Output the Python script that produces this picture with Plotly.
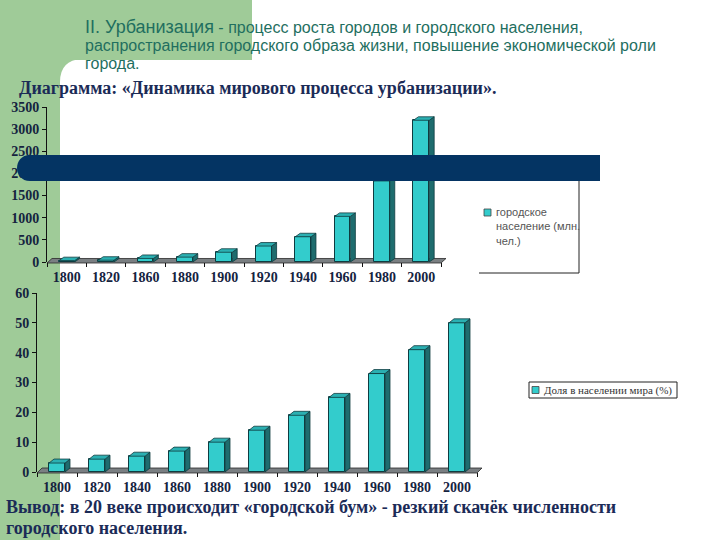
import plotly.graph_objects as go

# ---------------- data ----------------
top_years = ["1800", "1820", "1860", "1880", "1900", "1920", "1940", "1960", "1980", "2000"]
top_values = [30, 40, 80, 110, 220, 360, 570, 1030, 1830, 3200]
top_name = "городское население (млн. чел.)"

bot_years = ["1800", "1820", "1840", "1860", "1880", "1900", "1920", "1940", "1960", "1980", "2000"]
bot_values = [3, 4.3, 5.3, 7, 10, 14, 19, 25, 33, 41, 50]
bot_name = "Доля в населении мира (%)"

title_head = "II. Урбанизация"
title_lines = [
    " - процесс роста городов и городского населения,",
    "распространения городского образа жизни, повышение экономической роли",
    "города.",
]
diagram_title = "Диаграмма: «Динамика мирового процесса урбанизации»."
conclusion = [
    "Вывод: в 20 веке происходит «городской бум» - резкий скачёк численности",
    "городского населения.",
]

# ---------------- style ----------------
W, H = 720, 540
GREEN = "#9fcb98"
NAVY_BAR = "#043463"
FRONT = "#33cccc"
SIDE = "#1e6c6e"
TOPF = "#2bb0b2"
EDGE = "#0f3c40"
TEXT_GREEN = "#1f6f5f"
TEXT_NAVY = "#1b2b57"
SERIF = "Liberation Serif"
SANS = "Liberation Sans"


def X(px):
    return px / W


def Y(py):
    return 1 - py / H


def path(points):
    return "M " + " L ".join(f"{X(a):.5f},{Y(b):.5f}" for a, b in points) + " Z"


# chart geometry (pixels): front plane and back wall
T_FRONT = dict(x0=47, x1=441, y0=262, y1=107)   # y0 = value 0, y1 = max
T_BACK = dict(x0=52, x1=446, y0=258.5, y1=101)
B_FRONT = dict(x0=37, x1=477, y0=472, y1=293)
B_BACK = dict(x0=42, x1=482, y0=468, y1=290)
T_MAX, B_MAX = 3500, 60
BAR_W = 0.4

fig = go.Figure()

fig.add_trace(go.Bar(
    x=list(range(len(top_years))), y=top_values, name=top_name,
    xaxis="x2", yaxis="y2", width=BAR_W,
    marker=dict(color=FRONT, line=dict(color=EDGE, width=1)),
    showlegend=False,
))
fig.add_trace(go.Bar(
    x=list(range(len(bot_years))), y=bot_values, name=bot_name,
    xaxis="x4", yaxis="y4", width=BAR_W,
    marker=dict(color=FRONT, line=dict(color=EDGE, width=1)),
    showlegend=False,
))

shapes = []
# background green areas
shapes.append(dict(type="rect", xref="paper", yref="paper", x0=X(0), x1=X(252), y0=Y(60), y1=Y(0),
                   fillcolor=GREEN, line=dict(width=0), layer="below"))
shapes.append(dict(type="rect", xref="paper", yref="paper", x0=X(0), x1=X(60), y0=Y(540), y1=Y(0),
                   fillcolor=GREEN, line=dict(width=0), layer="below"))
shapes.append(dict(type="path", xref="paper", yref="paper",
                   path=f"M {X(60)},{Y(59)} L {X(82)},{Y(59)} Q {X(60)},{Y(60)} {X(60)},{Y(82)} Z",
                   fillcolor=GREEN, line=dict(width=0), layer="below"))


def floor(front, back):
    return dict(type="path", xref="paper", yref="paper",
                path=path([(front["x0"], front["y0"] + 1), (front["x1"], front["y0"] + 1),
                           (back["x1"], back["y0"]), (back["x0"], back["y0"])]),
                fillcolor="#7a7f82", line=dict(color="#2a2a2a", width=0.8), layer="below")


shapes.append(floor(T_FRONT, T_BACK))
shapes.append(floor(B_FRONT, B_BACK))


def faces(values, xa, ya, front, back, vmax, n):
    out = []
    ppu_x = (front["x1"] - front["x0"]) / n
    ppu_y = (front["y0"] - front["y1"]) / vmax
    dx = (back["x1"] - front["x1"]) / ppu_x
    dy = (front["y0"] - back["y0"]) / ppu_y
    for i, v in enumerate(values):
        l, r = i - BAR_W / 2, i + BAR_W / 2
        side = f"M {r},0 L {r+dx},{dy} L {r+dx},{v+dy} L {r},{v} Z"
        top = f"M {l},{v} L {r},{v} L {r+dx},{v+dy} L {l+dx},{v+dy} Z"
        out.append(dict(type="path", xref=xa, yref=ya, path=side, fillcolor=SIDE,
                        line=dict(color=EDGE, width=0.8), layer="above"))
        out.append(dict(type="path", xref=xa, yref=ya, path=top, fillcolor=TOPF,
                        line=dict(color=EDGE, width=0.8), layer="above"))
    return out


shapes += faces(top_values, "x2", "y2", T_FRONT, T_BACK, T_MAX, len(top_years))
shapes += faces(bot_values, "x4", "y4", B_FRONT, B_BACK, B_MAX, len(bot_years))

# top legend box (right and bottom edges visible) + marker
shapes.append(dict(type="path", xref="paper", yref="paper",
                   path=f"M {X(479)},{Y(273)} L {X(579)},{Y(273)} L {X(579)},{Y(170)}",
                   line=dict(color="#222", width=1), layer="above"))
shapes.append(dict(type="rect", xref="paper", yref="paper", x0=X(484), x1=X(491), y0=Y(216), y1=Y(209),
                   fillcolor=FRONT, line=dict(color="#444", width=0.8), layer="above"))
# bottom legend box + marker
shapes.append(dict(type="rect", xref="paper", yref="paper", x0=X(529), x1=X(677), y0=Y(398), y1=Y(382),
                   fillcolor="white", line=dict(color="#222", width=1), layer="above"))
shapes.append(dict(type="rect", xref="paper", yref="paper", x0=X(532), x1=X(539), y0=Y(393.5), y1=Y(386.5),
                   fillcolor=FRONT, line=dict(color="#444", width=0.8), layer="above"))

# dark rounded banner
shapes.append(dict(type="path", xref="paper", yref="paper",
                   path=(f"M {X(30)},{Y(155)} L {X(600)},{Y(155)} L {X(600)},{Y(181)} L {X(30)},{Y(181)} "
                         f"C {X(12.7)},{Y(181)} {X(12.7)},{Y(155)} {X(30)},{Y(155)} Z"),
                   fillcolor=NAVY_BAR, line=dict(width=0), layer="above"))

annotations = []
line_texts = [f"<span style='font-size:18px'>{title_head}</span>{title_lines[0]}"] + title_lines[1:]
for txt, yy in zip(line_texts, [27, 45, 63]):
    annotations.append(dict(text=txt, x=X(83), y=Y(yy), xref="paper", yref="paper", xanchor="left",
                            yanchor="middle", showarrow=False, font=dict(family=SANS, size=16, color=TEXT_GREEN)))
annotations.append(dict(text=f"<b>{diagram_title}</b>", x=X(17), y=Y(88), xref="paper", yref="paper",
                        xanchor="left", yanchor="middle", showarrow=False,
                        font=dict(family=SERIF, size=18, color=TEXT_NAVY)))
for txt, yy in zip(conclusion, [507, 528]):
    annotations.append(dict(text=f"<b>{txt}</b>", x=X(4), y=Y(yy), xref="paper", yref="paper",
                            xanchor="left", yanchor="middle", showarrow=False,
                            font=dict(family=SERIF, size=18, color=TEXT_NAVY)))
annotations.append(dict(text="городское<br>население (млн.<br>чел.)", x=X(494), y=Y(204), xref="paper",
                        yref="paper", xanchor="left", yanchor="top", align="left", showarrow=False,
                        font=dict(family=SANS, size=11, color="#555")))
annotations.append(dict(text=bot_name, x=X(542), y=Y(390), xref="paper", yref="paper",
                        xanchor="left", yanchor="middle", showarrow=False,
                        font=dict(family=SERIF, size=11, color="#333")))

tickfont = dict(family=SERIF, size=14, color="#15233f", weight="bold")


def dom_x(g):
    return [X(g["x0"]), X(g["x1"])]


def dom_y(g):
    return [Y(g["y0"]), Y(g["y1"])]


back_axis = dict(showline=True, mirror=True, linecolor="#111", linewidth=1, ticks="",
                 showticklabels=False, zeroline=False, automargin=False)

fig.update_layout(
    template="none",
    width=W, height=H, autosize=False,
    margin=dict(l=0, r=0, t=0, b=0, pad=0, autoexpand=False),
    paper_bgcolor="white", plot_bgcolor="rgba(0,0,0,0)",
    showlegend=False, bargap=0,
    shapes=shapes, annotations=annotations,
    # top chart back wall
    xaxis=dict(domain=dom_x(T_BACK), range=[0, 1], anchor="y", showgrid=False, **back_axis),
    yaxis=dict(domain=dom_y(T_BACK), range=[0, T_MAX], anchor="x", dtick=500, showgrid=True,
               gridcolor="#111", gridwidth=1, **back_axis),
    # top chart front
    xaxis2=dict(domain=dom_x(T_FRONT), range=[-0.5, len(top_years) - 0.5], anchor="y2",
                tickmode="array", tickvals=list(range(len(top_years))), ticktext=top_years,
                showgrid=False, zeroline=False, showline=False, ticks="", tickfont=tickfont,
                ticklabelstandoff=5, automargin=False,
                minor=dict(tickvals=[i - 0.5 for i in range(len(top_years) + 1)], ticks="outside",
                           ticklen=4, tickcolor="#111", showgrid=False)),
    yaxis2=dict(domain=dom_y(T_FRONT), range=[0, T_MAX], anchor="x2", dtick=500, showgrid=False,
                zeroline=False, showline=True, linecolor="#111", linewidth=1, ticks="outside",
                ticklen=4, tickcolor="#111", tickfont=tickfont, ticklabelstandoff=0, automargin=False),
    # bottom chart back wall
    xaxis3=dict(domain=dom_x(B_BACK), range=[0, 1], anchor="y3", showgrid=False, **back_axis),
    yaxis3=dict(domain=dom_y(B_BACK), range=[0, B_MAX], anchor="x3", tickmode="array", tickvals=[50],
                showgrid=True, gridcolor="#111", gridwidth=1, **back_axis),
    # bottom chart front
    xaxis4=dict(domain=dom_x(B_FRONT), range=[-0.5, len(bot_years) - 0.5], anchor="y4",
                tickmode="array", tickvals=list(range(len(bot_years))), ticktext=bot_years,
                showgrid=False, zeroline=False, showline=False, ticks="", tickfont=tickfont,
                ticklabelstandoff=5, automargin=False,
                minor=dict(tickvals=[i - 0.5 for i in range(len(bot_years) + 1)], ticks="outside",
                           ticklen=4, tickcolor="#111", showgrid=False)),
    yaxis4=dict(domain=dom_y(B_FRONT), range=[0, B_MAX], anchor="x4", dtick=10, showgrid=False,
                zeroline=False, showline=True, linecolor="#111", linewidth=1, ticks="outside",
                ticklen=4, tickcolor="#111", tickfont=tickfont, ticklabelstandoff=0, automargin=False),
)

fig.write_html(
    "out.html",
    config={"displayModeBar": False},
    post_script="document.body.style.margin='0px';document.body.style.overflow='hidden';",
)
